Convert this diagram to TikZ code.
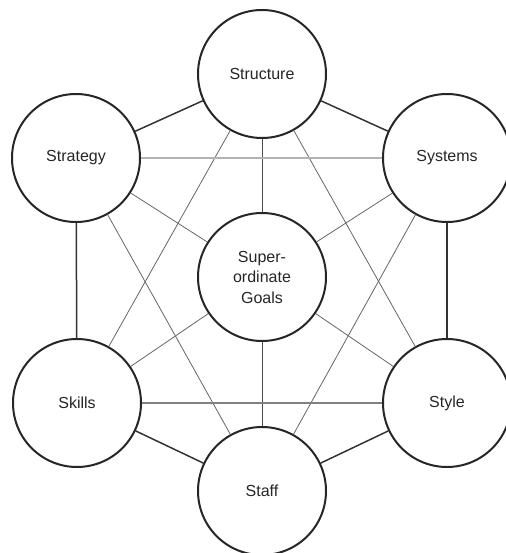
\documentclass[tikz,border=0pt]{standalone}
\usepackage{fontspec}
\setmainfont{Liberation Sans}
\begin{document}
\begin{tikzpicture}[x=1pt,y=-1pt,
  element/.style={circle,draw=black!85,line width=2pt,fill=white,minimum size=128pt,
    inner sep=0pt,align=center,font=\fontsize{16}{20.5}\selectfont,text=black!85},
  ring/.style={draw=black!80,line width=1.5pt},
  spoke/.style={draw=black!70,line width=0.9pt},
  cross/.style={draw=black!60,line width=0.8pt},
  across/.style={draw=black!30,line width=1.2pt},
  lower/.style={draw=black!50,line width=1.1pt}]
\useasboundingbox (0,0) rectangle (505,553);
% the seven elements
\node[element] (structure) at (262,74) {Structure};
\node[element] (strategy) at (76,158) {Strategy};
\node[element] (systems) at (447,158) {Systems};
\node[element] (goals) at (262,277) {Super-\\ordinate\\Goals};
\node[element] (skills) at (77,403) {Skills};
\node[element] (style) at (447,403) {Style};
\node[element] (staff) at (262,491) {Staff};
% outer ring
\draw[ring] (structure) -- (strategy);
\draw[ring] (structure) -- (systems);
\draw[ring] (strategy) -- (skills);
\draw[ring] (systems) -- (style);
\draw[ring] (skills) -- (staff);
\draw[ring] (style) -- (staff);
% spokes to the centre
\draw[spoke] (structure) -- (goals);
\draw[spoke] (goals) -- (staff);
\draw[cross] (strategy) -- (goals);
\draw[cross] (systems) -- (goals);
\draw[cross] (skills) -- (goals);
\draw[cross] (style) -- (goals);
% diagonals
\draw[cross] (structure) -- (skills);
\draw[cross] (structure) -- (style);
\draw[cross] (strategy) -- (staff);
\draw[cross] (systems) -- (staff);
% horizontals
\draw[across] (strategy) -- (systems);
\draw[lower] (skills) -- (style);
\end{tikzpicture}
\end{document}
